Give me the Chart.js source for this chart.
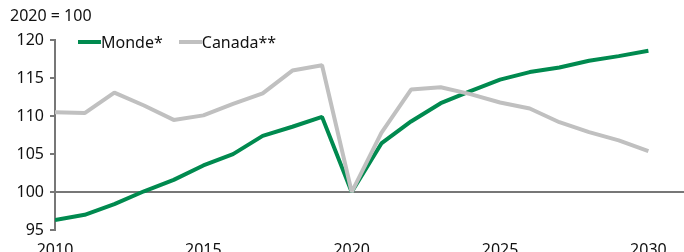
<!DOCTYPE html>
<html>
<head>
<meta charset="utf-8">
<script src="https://cdn.jsdelivr.net/npm/chart.js@4"></script>
<style>
  html, body { margin: 0; padding: 0; background: #fff; }
  #wrap { position: relative; width: 684px; height: 252px; }
  #legend { position: absolute; left: 78px; top: 31px; display: flex; font: 16px 'Noto Sans', sans-serif; color: #111; }
  #legend span { display: flex; align-items: center; margin-right: 16px; }
  #legend i { display: inline-block; width: 23px; height: 4px; margin-right: 0; }
</style>
</head>
<body>
<div id="wrap">
  <canvas id="chart" width="684" height="252"></canvas>
  <div id="legend"></div>
</div>
<script>
  const years = [2010, 2011, 2012, 2013, 2014, 2015, 2016, 2017, 2018, 2019, 2020,
                 2021, 2022, 2023, 2024, 2025, 2026, 2027, 2028, 2029, 2030];
  const monde = [96.3, 97.0, 98.4, 100.1, 101.6, 103.5, 105.0, 107.4, 108.6, 109.9, 100.0,
                 106.4, 109.3, 111.7, 113.3, 114.8, 115.8, 116.4, 117.3, 117.9, 118.6];
  const canada = [110.5, 110.4, 113.1, 111.4, 109.5, 110.1, 111.6, 113.0, 116.0, 116.7, 100.0,
                  107.8, 113.5, 113.8, 112.9, 111.8, 111.0, 109.2, 107.9, 106.8, 105.4];
  const xTicks = [2010, 2015, 2020, 2025, 2030];
  const yTicks = [95, 100, 105, 110, 115, 120];

  const series = [
    { label: 'Monde*', values: monde, color: '#008a4f', order: 1 },
    { label: 'Canada**', values: canada, color: '#c0c0c0', order: 0 },
  ];

  const font = { family: "'Noto Sans', sans-serif", size: 16, weight: 'normal' };

  new Chart(document.getElementById('chart'), {
    type: 'line',
    data: {
      datasets: series.map(s => ({
        label: s.label,
        data: years.map((y, k) => ({ x: y, y: s.values[k] })),
        borderColor: s.color,
        borderWidth: 4,
        borderJoinStyle: 'bevel',
        pointRadius: 0,
        tension: 0,
        order: s.order,
      })),
    },
    options: {
      responsive: false,
      animation: false,
      layout: { padding: { left: 10, right: 0, top: 0, bottom: 0 } },
      scales: {
        x: {
          type: 'linear',
          min: 2010, max: 2031.2,
          afterBuildTicks: scale => { scale.ticks = xTicks.map(v => ({ value: v })); },
          afterFit: scale => { scale.height = 22; },
          grid: { display: false },
          border: { display: false },
          ticks: { color: '#111', font, padding: 3, maxRotation: 0, callback: v => String(v) },
        },
        y: {
          min: 95, max: 120,
          afterBuildTicks: scale => { scale.ticks = yTicks.map(v => ({ value: v })); },
          afterFit: scale => { scale.width = 45; },
          grid: {
            color: ctx => (ctx.tick && ctx.tick.value === 100 ? '#777' : 'rgba(0,0,0,0)'),
            tickColor: '#777',
            tickLength: 5,
            lineWidth: 2,
          },
          border: { display: true, color: '#777', width: 2 },
          ticks: { color: '#111', font, padding: 6 },
        },
      },
      plugins: {
        legend: { display: false },
        tooltip: { enabled: false },
        title: {
          display: true,
          text: '2020 = 100',
          align: 'start',
          color: '#111',
          font,
          padding: { top: 7, bottom: 14 },
        },
      },
    },
  });

  // legend
  const legend = document.getElementById('legend');
  series.forEach(s => {
    const item = document.createElement('span');
    item.innerHTML = `<i style="background:${s.color}"></i>${s.label}`;
    legend.appendChild(item);
  });
</script>
</body>
</html>
